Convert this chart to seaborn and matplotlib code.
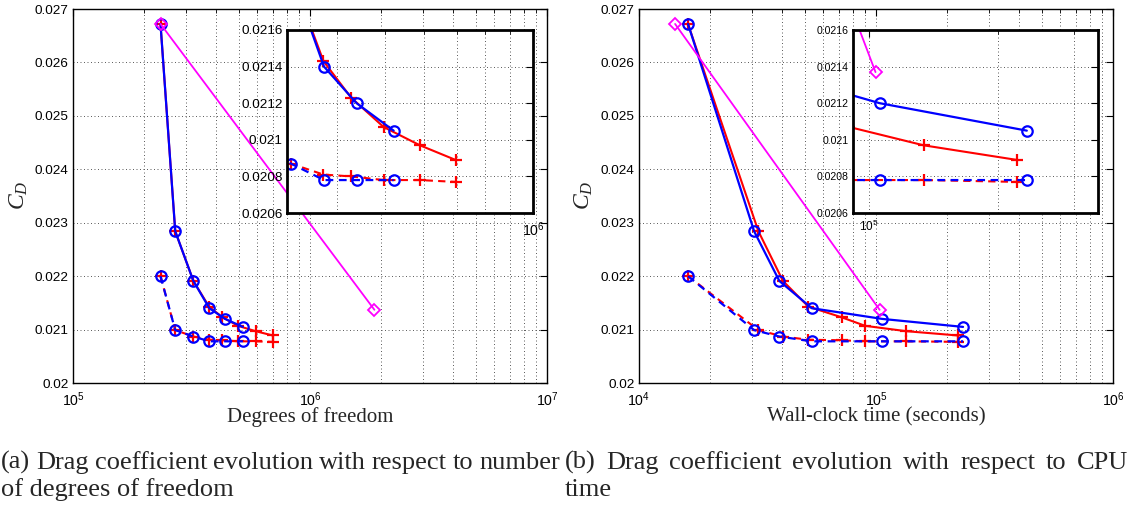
import matplotlib
matplotlib.use("Agg")
import matplotlib.pyplot as plt
import seaborn as sns
from matplotlib.ticker import FixedLocator, FuncFormatter, LogLocator, NullFormatter

# ---------------------------------------------------------------- data
# degrees of freedom of each refinement step
dof_circ = [2.34e5, 2.70e5, 3.22e5, 3.76e5, 4.38e5, 5.21e5]
dof_plus = [2.34e5, 2.70e5, 3.22e5, 3.75e5, 4.27e5, 4.97e5, 5.89e5, 6.96e5]
dof_diam = [2.34e5, 1.87e6]

# wall-clock time (s) of each refinement step
time_circ = [1.61e4, 3.06e4, 3.91e4, 5.36e4, 1.06e5, 2.33e5]
time_plus = [1.61e4, 3.19e4, 4.05e4, 5.18e4, 7.16e4, 9.00e4, 1.34e5, 2.21e5]
time_diam = [1.42e4, 1.036e5]

# drag coefficient
cd_circ_solid = [0.02672, 0.02284, 0.02191, 0.02140, 0.02120, 0.02105]
cd_circ_dash = [0.02200, 0.02099, 0.02087, 0.02078, 0.02078, 0.02078]
cd_plus_solid = [0.02672, 0.02284, 0.02191, 0.02143, 0.02123, 0.02107, 0.02097, 0.02089]
cd_plus_dash = [0.02200, 0.02099, 0.02087, 0.02081, 0.02080, 0.02078, 0.02078, 0.02077]
cd_diam = [0.02672, 0.02137]

main_yticks = [0.020, 0.021, 0.022, 0.023, 0.024, 0.025, 0.026, 0.027]
inset_yticks = [0.0206, 0.0208, 0.0210, 0.0212, 0.0214, 0.0216]

caption_a = ["(a) Drag coefficient evolution with respect to number",
             "of degrees of freedom"]
caption_b = ["(b) Drag coefficient evolution with respect to CPU",
             "time"]

# ---------------------------------------------------------------- style
sns.set_style("white")
plt.rcParams["font.family"] = ["Liberation Sans", "DejaVu Sans"]
plt.rcParams["mathtext.fontset"] = "custom"
plt.rcParams["mathtext.rm"] = "Liberation Sans"
plt.rcParams["mathtext.it"] = "Liberation Serif:italic"
plt.rcParams["mathtext.default"] = "it"

BLUE, RED, MAGENTA = "#0000ff", "#ff0000", "#ff00ff"
GRID = dict(color="#5a5a5a", linestyle=(0, (1, 2.6)), linewidth=0.7)
DASH = (0, (3.5, 2.5))

W, H = 1132, 512
fig = plt.figure(figsize=(W / 100, H / 100), dpi=100)


def px_box(x0, y0, x1, y1):
    return [x0 / W, 1 - y1 / H, (x1 - x0) / W, (y1 - y0) / H]


def draw_series(ax, xs_circ, xs_plus, xs_diam):
    common = dict(ax=ax, legend=False, sort=False, estimator=None,
                  markerfacecolor="none", clip_on=True)
    sns.lineplot(x=xs_plus, y=cd_plus_solid, color=RED, linestyle="-",
                 marker="+", markersize=8, markeredgecolor=RED,
                 markeredgewidth=1.6, linewidth=1.5, **common)
    sns.lineplot(x=xs_plus, y=cd_plus_dash, color=RED, linestyle=DASH,
                 marker="+", markersize=8, markeredgecolor=RED,
                 markeredgewidth=1.6, linewidth=1.5, **common)
    sns.lineplot(x=xs_circ, y=cd_circ_solid, color=BLUE, linestyle="-",
                 marker="o", markersize=7.5, markeredgecolor=BLUE,
                 markeredgewidth=1.6, linewidth=1.6, **common)
    sns.lineplot(x=xs_circ, y=cd_circ_dash, color=BLUE, linestyle=DASH,
                 marker="o", markersize=7.5, markeredgecolor=BLUE,
                 markeredgewidth=1.6, linewidth=1.6, **common)
    sns.lineplot(x=xs_diam, y=cd_diam, color=MAGENTA, linestyle="-",
                 marker="D", markersize=6, markeredgecolor=MAGENTA,
                 markeredgewidth=1.3, linewidth=1.3, **common)


def style_axes(ax, xlim, ylim, yticks, fs_y, fs_x, spine_w, xpad):
    ax.set_xscale("log")
    ax.set_xlim(*xlim)
    ax.set_ylim(*ylim)
    ax.xaxis.set_major_locator(LogLocator(base=10, numticks=10))
    ax.xaxis.set_minor_locator(LogLocator(base=10, subs=range(2, 10), numticks=50))
    ax.xaxis.set_minor_formatter(NullFormatter())
    ax.yaxis.set_major_locator(FixedLocator(yticks))
    ax.yaxis.set_major_formatter(FuncFormatter(lambda v, p: f"{v:g}"))
    ax.grid(True, which="major", axis="both", **GRID)
    ax.grid(True, which="minor", axis="x", **GRID)
    ax.tick_params(which="both", direction="in", top=True, right=True,
                   colors="black", pad=3)
    ax.tick_params(axis="y", labelsize=fs_y)
    ax.tick_params(axis="x", labelsize=fs_x, pad=xpad)
    ax.tick_params(which="major", length=5, width=0.8)
    ax.tick_params(which="minor", length=3, width=0.6)
    for s in ax.spines.values():
        s.set_visible(True)
        s.set_color("black")
        s.set_linewidth(spine_w)
    ax.set_xlabel("")
    ax.set_ylabel("")
    ax.set_facecolor("white")


# ---------------------------------------------------------------- panel (a)
ax_a = fig.add_axes(px_box(73, 9, 547, 383))
draw_series(ax_a, dof_circ, dof_plus, dof_diam)
style_axes(ax_a, (1e5, 1e7), (0.020, 0.027), main_yticks, 9.7, 10.2, 1.0, 5.5)

ins_a = fig.add_axes(px_box(287, 30, 533, 213))
draw_series(ins_a, dof_circ, dof_plus, dof_diam)
style_axes(ins_a, (10 ** 5.5, 1e6), (0.0206, 0.0216), inset_yticks, 9.7, 10.2, 2.0, 5)

# ---------------------------------------------------------------- panel (b)
ax_b = fig.add_axes(px_box(639, 9, 1113, 383))
draw_series(ax_b, time_circ, time_plus, time_diam)
style_axes(ax_b, (1e4, 1e6), (0.020, 0.027), main_yticks, 9.7, 10.2, 1.0, 5.5)

ins_b = fig.add_axes(px_box(853, 30, 1098, 213))
draw_series(ins_b, time_circ, time_plus, time_diam)
style_axes(ins_b, (10 ** 4.963, 10 ** 5.533), (0.0206, 0.0216), inset_yticks, 7.6, 8.5, 2.0, 4)

# ---------------------------------------------------------------- labels
serif = ["Liberation Serif", "DejaVu Serif"]
fig.text(310 / W, 1 - 417 / H, "Degrees of freedom", family=serif, fontsize=15,
         ha="center", va="center")
fig.text(876 / W, 1 - 417 / H, "Wall-clock time (seconds)", family=serif, fontsize=15,
         ha="center", va="center")
fig.text(19 / W, 1 - 195 / H, "$C_D$", fontsize=17, rotation=90,
         ha="center", va="center")
fig.text(584 / W, 1 - 195 / H, "$C_D$", fontsize=17, rotation=90,
         ha="center", va="center")


def justified_line(text, x0, x1, y, size):
    """Spread the words of a caption line over [x0, x1] (pixels)."""
    renderer = fig.canvas.get_renderer()
    words = text.split()
    items = [fig.text(0, 1 - y / H, w, family=serif, fontsize=size, va="baseline")
             for w in words]
    widths = [t.get_window_extent(renderer).width for t in items]
    gap = ((x1 - x0) - sum(widths)) / max(len(words) - 1, 1)
    pos = x0
    for t, w in zip(items, widths):
        t.set_x(pos / W)
        pos += w + gap


def plain_line(text, x0, y, size):
    fig.text(x0 / W, 1 - y / H, text, family=serif, fontsize=size, va="baseline")


justified_line(caption_a[0], 1, 560, 469, 19)
plain_line(caption_a[1], 1, 496, 19)
justified_line(caption_b[0], 565, 1128, 469, 19)
plain_line(caption_b[1], 565, 496, 19)

fig.savefig("out.png", dpi=100)
